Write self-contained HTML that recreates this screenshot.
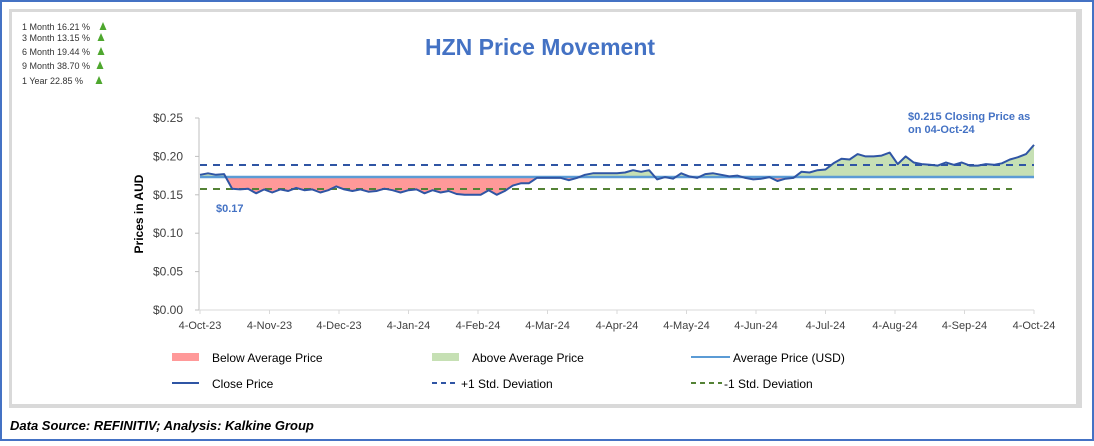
<!DOCTYPE html>
<html><head><meta charset="utf-8">
<style>
html,body{margin:0;padding:0;background:#fff;}
body{width:1094px;height:441px;overflow:hidden;font-family:"Liberation Sans",sans-serif;}
</style></head>
<body>
<svg id="chart" width="1094" height="441" xmlns="http://www.w3.org/2000/svg" font-family="Liberation Sans, sans-serif">
  <rect x="1" y="1" width="1092" height="439" fill="#fff" stroke="#4472c4" stroke-width="2"/>
  <rect x="9" y="9" width="1073" height="399" fill="#d9d9d9"/>
  <rect x="12" y="12" width="1064" height="392" fill="#fff"/>
  <g id="stats" font-size="9" fill="#333"></g>
  <text x="540" y="55" text-anchor="middle" font-size="23" font-weight="bold" fill="#4472c4">HZN Price Movement</text>
  <text transform="translate(143,214) rotate(-90)" text-anchor="middle" font-size="12" font-weight="bold" fill="#000">Prices in AUD</text>
  <g id="axes"></g>
  <g id="plot"></g>
  <text x="216" y="212" font-size="11" font-weight="bold" fill="#4472c4">$0.17</text>
  <text x="908" y="120" font-size="11" font-weight="bold" fill="#4472c4">$0.215 Closing Price as</text>
  <text x="908" y="133" font-size="11" font-weight="bold" fill="#4472c4">on 04-Oct-24</text>
  <g font-size="12" fill="#000">
    <rect x="172" y="353" width="27" height="8" fill="#ff9999"/>
    <text x="212" y="362">Below Average Price</text>
    <rect x="432" y="353" width="27" height="8" fill="#c6e0b4"/>
    <text x="472" y="362">Above Average Price</text>
    <line x1="691" y1="357" x2="730" y2="357" stroke="#5b9bd5" stroke-width="2"/>
    <text x="733" y="362">Average Price (USD)</text>
    <line x1="172" y1="383" x2="199" y2="383" stroke="#2f55a4" stroke-width="2"/>
    <text x="212" y="388">Close Price</text>
    <line x1="432" y1="383" x2="459" y2="383" stroke="#2f55a4" stroke-width="2" stroke-dasharray="5,4"/>
    <text x="461" y="388">+1 Std. Deviation</text>
    <line x1="691" y1="383" x2="722" y2="383" stroke="#548235" stroke-width="2" stroke-dasharray="5,4"/>
    <text x="724" y="388">-1 Std. Deviation</text>
  </g>
  <text x="10" y="430" font-size="13" font-weight="bold" font-style="italic" fill="#000">Data Source: REFINITIV; Analysis: Kalkine Group</text>
</svg>
<script>
const statLabels=["1 Month  16.21 %","3 Month 13.15 %","6 Month 19.44 %","9 Month 38.70 %","1 Year 22.85  %"];
const yTicks=[0,0.05,0.10,0.15,0.20,0.25];
const xTickLabels=["4-Oct-23","4-Nov-23","4-Dec-23","4-Jan-24","4-Feb-24","4-Mar-24","4-Apr-24","4-May-24","4-Jun-24","4-Jul-24","4-Aug-24","4-Sep-24","4-Oct-24"];
const avgPrice=0.1732;
const plusSD=0.1888;
const minusSD=0.1576;
const closePrices=[.176,.178,.176,.177,.158,.157,.158,.152,.157,.153,.157,.155,.159,.156,.157,.153,.156,.161,.157,.155,.157,.154,.155,.158,.156,.153,.156,.157,.152,.156,.153,.155,.151,.150,.150,.150,.156,.150,.155,.162,.165,.165,.172,.172,.172,.172,.169,.172,.176,.178,.178,.178,.178,.179,.182,.180,.182,.170,.173,.171,.178,.174,.172,.177,.178,.176,.174,.175,.172,.170,.171,.173,.168,.171,.172,.180,.179,.182,.183,.191,.197,.196,.203,.200,.200,.201,.205,.190,.200,.192,.190,.189,.188,.192,.189,.192,.188,.188,.190,.189,.191,.196,.199,.203,.215];

const NS="http://www.w3.org/2000/svg";
const X0=200,X1=1034,Y0=310,Y25=118;
const yS=v=>Y0-(v/0.25)*(Y0-Y25);
const xT=i=>X0+i*(X1-X0)/(xTickLabels.length-1);
const xD=i=>X0+i*(X1-X0)/(closePrices.length-1);
function mk(tag,attrs,parent){const e=document.createElementNS(NS,tag);for(const k in attrs)e.setAttribute(k,attrs[k]);parent.appendChild(e);return e;}

const stats=document.getElementById('stats');
const statY=[30,41,55,69,84];
const triX=[103,101,101,100,99];
statLabels.forEach((s,i)=>{
  const t=mk('text',{x:22,y:statY[i]},stats);t.textContent=s;
  
  
  const tx=triX[i];
  const tri=mk('polygon',{points:`${tx-3.5},${statY[i]} ${tx+3.5},${statY[i]} ${tx},${statY[i]-8}`,fill:'#4ea72e'},stats);
  
  
});

const axes=document.getElementById('axes');
const ya=mk('line',{x1:199,y1:Y25,x2:199,y2:Y0,stroke:'#bfbfbf','stroke-width':1},axes);


const xa=mk('line',{x1:199,y1:Y0,x2:X1,y2:Y0,stroke:'#d9d9d9','stroke-width':1},axes);


yTicks.forEach(v=>{
  const y=yS(v);
  mk('line',{x1:195,y1:y,x2:199,y2:y,stroke:'#bfbfbf'},axes);
  const t=mk('text',{x:183,y:y+4,'text-anchor':'end','font-size':12,fill:'#404040'},axes);
  t.textContent='$'+v.toFixed(2);
  
  
});
xTickLabels.forEach((l,i)=>{
  const x=xT(i);
  mk('line',{x1:x,y1:Y0,x2:x,y2:Y0+4,stroke:'#d9d9d9'},axes);
  const t=mk('text',{x:x,y:Y0+19,'text-anchor':'middle','font-size':11,fill:'#404040'},axes);
  t.textContent=l;
  
  
});

const plot=document.getElementById('plot');
const defs=mk('defs',{},plot);
const ay=yS(avgPrice);
const c1=mk('clipPath',{id:'above'},defs);mk('rect',{x:0,y:0,width:1094,height:ay},c1);
const c2=mk('clipPath',{id:'below'},defs);mk('rect',{x:0,y:ay,width:1094,height:441},c2);
let pts=closePrices.map((v,i)=>`${xD(i).toFixed(1)},${yS(v).toFixed(1)}`);
const areaPts=`${X0},${ay} `+pts.join(' ')+` ${X1},${ay}`;
const g1=mk('polygon',{points:areaPts,fill:'#c6e0b4','clip-path':'url(#above)'},plot);


const g2=mk('polygon',{points:areaPts,fill:'#ff9999','clip-path':'url(#below)'},plot);


const avg=mk('line',{x1:X0,y1:ay,x2:X1,y2:ay,stroke:'#5b9bd5','stroke-width':2.5},plot);


const p1=mk('line',{x1:X0,y1:yS(plusSD),x2:X1,y2:yS(plusSD),stroke:'#2f55a4','stroke-width':2,'stroke-dasharray':'7,6'},plot);


const m1=mk('line',{x1:X0,y1:yS(minusSD),x2:1012,y2:yS(minusSD),stroke:'#548235','stroke-width':2,'stroke-dasharray':'7,6'},plot);


const cl=mk('polyline',{points:pts.join(' '),fill:'none',stroke:'#2f55a4','stroke-width':2,'stroke-linejoin':'round'},plot);


</script>
</body></html>
